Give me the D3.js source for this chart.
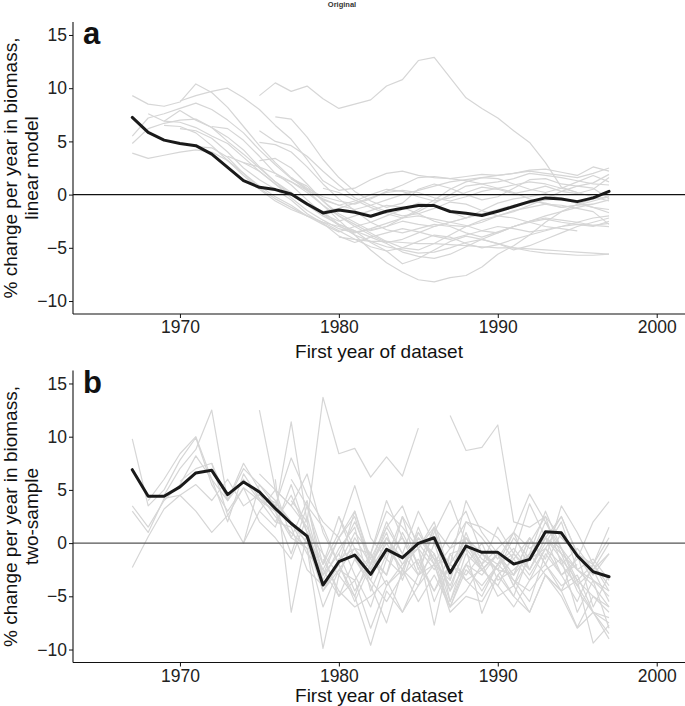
<!DOCTYPE html>
<html>
<head>
<meta charset="utf-8">
<script src="https://cdn.jsdelivr.net/npm/d3@7"></script>
<style>
  html, body { margin: 0; padding: 0; background: #fff; }
  svg { display: block; font-family: "Liberation Sans", Arial, sans-serif; }
</style>
</head>
<body>
<svg id="chart" width="685" height="706"></svg>
<script>
// ---------------- DATA ----------------
const xTicks = [1970, 1980, 1990, 2000];
const yTicks = [-10, -5, 0, 5, 10, 15];
const panelLetters = ["a", "b"];
const yTitles = [["% change per year in biomass,", "linear model"],
                 ["% change per year in biomass,", "two-sample"]];
const xTitle = "First year of dataset";

// mean lines (1967..1997)
const meanStart = 1967;
const meanA = [7.25, 5.84, 5.12, 4.81, 4.6, 3.8, 2.56, 1.31, 0.69, 0.47, 0.06, -0.88, -1.72, -1.44, -1.66, -2.03,
               -1.56, -1.28, -1.03, -1.03, -1.59, -1.75, -1.97, -1.56, -1.12, -0.66, -0.31, -0.41, -0.66, -0.31, 0.31];
const meanB = [6.9, 4.4, 4.4, 5.28, 6.59, 6.84, 4.56, 5.75, 4.81, 3.25, 1.84, 0.66, -3.94, -1.75, -1.12, -2.94,
               -0.59, -1.37, -0.03, 0.5, -2.78, -0.28, -0.87, -0.87, -1.97, -1.53, 1.06, 0.97, -1.19, -2.69, -3.16];

// panel a grey series: [first year, values...]
const greyA_starts = [1975,1967,1970,1967,1967,1967,1968,1969,1969,1970,1971,1972,1975,1976,1975,1975,1977,1978,1977,1980,1979,1976,1973,1974];
const greyA_values = [
  [9.3,10.5,9.7,10.2,9.0,8.1,8.5,8.9,10.2,10.8,12.6,12.9,11.0,9.1,8.1,7.2,6.0,4.9,3.0,0.7,0.2],
  [9.3,8.5,8.3,8.7,10.4,9.6,8.2,6.4,4.6,3.0,1.6,0.6,-0.2,-0.6,-0.9,-0.4,0.3,0.9,1.6,1.7,1.5,1.3,1.0,1.2,1.5,2.0,1.8,1.6,1.3,1.0,0.9],
  [8.8,9.3,9.7,10.0,9.1,8.0,6.5,5.2,3.3,1.3,0.4,0.6,1.4,2.0,2.2,1.8,1.6,1.5,1.7,1.9,1.8,2.0,2.3,2.4,2.1,1.8,2.6,2.2],
  [5.5,7.2,7.6,8.1,8.6,8.0,7.0,5.8,4.2,2.8,1.5,0.5,-0.5,-1.0,-0.6,0.0,0.5,0.3,-0.2,-0.6,-0.3,0.2,0.7,0.5,0.1,0.4,0.8,0.3,0.1,0.5,1.6],
  [4.8,6.2,6.7,7.0,7.1,6.3,5.0,3.8,2.5,1.2,0.0,-1.0,-1.6,-1.3,-0.8,-0.3,0.2,0.4,0.2,-0.3,-0.6,-0.2,0.3,0.6,0.9,1.2,1.0,0.6,0.2,-0.2,-0.6],
  [3.9,3.4,3.7,4.0,4.2,4.0,3.2,2.0,0.8,-0.2,-1.0,-2.0,-2.6,-3.0,-3.5,-3.3,-3.0,-2.5,-2.8,-3.0,-2.6,-2.2,-1.8,-1.5,-1.0,-0.8,-0.5,-0.4,-0.8,-1.2,-1.7],
  [7.6,6.9,7.9,7.0,6.3,5.4,4.2,2.6,1.2,0.2,-0.8,-1.8,-2.5,-2.0,-1.5,-1.0,-1.2,-1.8,-2.5,-2.9,-3.0,-2.6,-2.0,-1.5,-1.2,-0.9,-1.0,-1.3,-1.6,-2.8],
  [6.9,6.8,6.3,5.5,4.8,3.5,2.2,1.0,-0.3,-1.5,-2.4,-3.2,-3.6,-3.2,-2.7,-2.2,-2.0,-2.3,-2.6,-2.9,-3.4,-3.6,-3.0,-2.6,-2.3,-2.6,-2.8,-3.0,-2.5],
  [6.5,6.4,5.8,4.6,3.2,1.8,0.5,-0.6,-1.4,-2.0,-2.8,-3.5,-3.0,-2.6,-2.0,-1.4,-0.8,-1.0,-1.6,-2.2,-1.5,-0.8,-0.4,-0.2,0.1,-0.4,-0.8,-1.2,-1.4],
  [6.2,6.0,5.3,4.0,2.5,1.4,0.5,-0.5,-1.8,-2.7,-3.9,-4.5,-4.0,-3.6,-3.2,-3.5,-3.9,-4.2,-3.8,-3.4,-3.0,-3.2,-3.5,-3.3,-3.0,-2.8,-2.9,-2.7],
  [4.5,4.4,3.5,2.0,0.6,-0.4,-1.2,-2.0,-2.6,-3.4,-4.2,-4.9,-5.3,-5.0,-4.4,-3.8,-4.0,-4.6,-5.0,-4.7,-4.2,-3.8,-3.4,-3.0,-2.6,-2.2,-2.0],
  [6.4,6.2,5.1,3.6,2.0,0.9,-0.5,-1.8,-2.9,-3.8,-4.4,-4.9,-5.2,-5.5,-5.4,-5.0,-4.5,-4.2,-4.6,-5.0,-5.3,-5.5,-5.6,-5.7,-5.7,-5.6],
  [6.0,5.0,4.6,3.6,2.2,0.9,-0.3,-1.0,-1.6,-2.0,-1.8,-1.3,-0.7,-0.9,-1.5,-2.0,-1.6,-1.0,-0.4,0.3,0.8,0.6,-0.4],
  [7.3,7.1,5.4,3.3,1.6,0.3,-0.6,-1.2,-0.8,0.5,1.0,0.6,0.0,-0.5,-0.2,0.6,1.4,1.5,1.0,0.8,1.1,1.9],
  [4.9,4.7,4.0,2.6,1.0,-0.4,-1.5,-2.6,-3.3,-3.6,-3.2,-2.8,-3.0,-3.6,-4.0,-3.5,-3.0,-2.5,-2.2,-2.4,-2.6,-2.9,-3.0],
  [3.2,3.4,2.5,1.0,-0.6,-2.0,-3.0,-3.8,-4.5,-4.2,-3.6,-3.0,-2.6,-2.2,-1.8,-1.4,-1.0,-0.6,-0.8,-1.2,-1.0,-0.9],
  [1.6,0.4,-1.0,-2.4,-3.8,-5.2,-6.4,-7.3,-8.0,-8.2,-7.8,-7.6,-6.8,-5.6,-4.8,-3.8,-2.6,-1.6,-0.9,-0.4,-0.2],
  [-0.8,-1.6,-2.8,-3.4,-4.5,-5.3,-6.5,-6.0,-5.2,-4.4,-3.9,-4.2,-4.6,-5.2,-4.8,-4.2,-3.6,-3.0,-2.6,-2.2],
  [1.5,0.8,-0.6,-1.8,-2.6,-3.4,-3.0,-2.2,-1.4,-0.5,0.5,1.2,1.6,1.5,1.0,0.5,0.2,0.6,1.2,1.8,1.2],
  [-4.0,-4.2,-4.4,-4.4,-4.5,-4.6,-4.6,-4.7,-4.8,-4.9,-5.0,-5.0,-5.1,-5.2,-5.3,-5.4,-5.5,-5.6],
  [0.6,0.2,-0.5,-1.2,-1.8,-2.2,-1.6,-0.8,0.0,0.8,1.0,0.6,0.2,-0.4,-0.9,-1.2,-1.0,-0.6,-0.2],
  [1.8,1.2,0.2,-1.0,-2.0,-2.8,-3.6,-4.4,-5.0,-5.2,-4.6,-3.8,-3.0,-2.4,-2.0,-2.2,-2.6,-3.0,-3.2,-3.4],
  [3.6,3.0,2.2,1.0,0.0,-1.0,-2.0,-2.8,-3.4,-4.0,-4.6,-5.4,-5.8,-6.0,-5.6,-4.9,-4.2,-3.6,-3.0,-2.5,-2.0,-1.6,-1.2,-0.9,-0.5],
  [3.0,2.6,2.0,1.2,0.4,-0.4,-1.0,-1.4,-1.0,-0.5,0.0,0.4,0.8,1.2,1.4,1.6,1.8,2.0,2.2,2.0,1.8,1.6,2.0,2.5]
];

// panel b grey series
const greyB_starts = [1967,1967,1967,1967,1968,1969,1970,1972,1975,1975,1976,1977,1987,1976,1977,1978,1976,1978,1979,1980,1975,1981,1974,1975];
const greyB_values = [
  [9.8,3.5,5.0,7.8,9.9,5.5,3.0,5.2,2.0,0.5,-1.5,2.5,-3.0,-1.0,-4.5,-2.0,1.0,-3.5,0.5,-1.5,-4.0,-0.5,-2.5,-1.0,-3.0,0.5,-2.0,-4.5,-1.0,-6.0,-3.0],
  [3.5,1.5,4.0,5.5,8.2,6.0,2.0,6.5,4.2,3.0,0.5,-0.5,-6.0,-2.5,-3.5,-1.0,-4.0,-2.0,0.5,-1.0,-5.5,-2.0,0.0,-3.5,-2.5,-1.0,3.0,-0.5,-4.0,-2.5,-5.5],
  [3.0,1.0,4.2,4.5,3.0,1.0,2.6,0.0,5.5,3.5,2.0,-1.0,-2.5,0.5,-3.0,-6.0,-1.5,-3.0,1.5,-2.0,-3.5,1.0,-2.5,-4.0,-1.0,-2.5,0.5,-1.5,-6.5,-3.5,-8.0],
  [-2.3,0.6,3.2,4.5,5.5,4.0,6.0,3.5,4.6,2.5,1.0,-0.5,-9.9,-3.0,-5.0,-9.6,-4.5,-6.5,-3.0,-2.0,-6.0,-4.5,-2.0,-5.0,-4.0,-6.5,-3.0,-4.5,-3.5,-9.4,-7.7],
  [4.0,6.0,8.4,10.0,6.0,4.0,7.0,5.5,4.0,2.0,0.0,-3.0,-1.0,2.0,-1.5,1.5,3.5,-0.5,-2.5,-0.5,0.5,-2.0,-0.5,1.0,4.6,2.0,-1.0,-2.5,-3.5,-4.5],
  [4.5,7.0,8.8,12.5,4.0,7.5,5.0,3.0,-1.0,3.5,-2.0,1.0,5.4,0.5,-1.5,2.5,-2.5,1.0,4.0,0.0,-2.0,1.5,-1.0,3.7,0.5,-3.0,-1.5,2.0,3.9],
  [5.8,7.0,7.5,2.6,5.2,4.0,2.0,1.5,-2.5,-4.0,-2.0,-5.0,-1.0,-3.0,1.0,-2.0,-4.5,-1.0,-0.5,-6.6,-3.0,-1.5,0.5,-2.0,-4.0,-3.0,-6.5,-8.5],
  [7.5,4.0,6.0,4.0,3.0,11.4,2.0,-4.5,-2.0,-5.5,-2.0,0.5,-1.5,-0.5,-7.7,-1.0,-3.5,-2.5,-1.0,-4.0,0.0,2.5,-2.0,-0.5,-2.5,0.0],
  [12.5,5.0,3.5,6.5,1.0,-2.0,3.0,-1.5,-3.0,2.5,0.0,-2.0,1.0,3.0,-1.0,-2.5,0.5,-1.5,2.0,-0.5,-3.5,-2.0,0.5],
  [6.5,5.0,0.5,4.0,-3.5,-0.5,1.5,-4.5,-1.0,0.5,-3.0,-1.0,-4.5,0.0,-2.5,-1.0,-4.0,-1.5,-0.5,-3.0,-5.5,-2.0,-4.5],
  [3.5,8.0,4.5,2.0,0.5,3.0,-2.0,0.5,-1.5,-0.5,2.0,-3.0,0.5,-1.0,-2.0,1.0,-2.5,0.0,2.5,-1.0,-3.0,-1.0],
  [4.0,2.0,13.7,8.4,8.9,6.2,8.1,6.3,10.8],
  [12.0,8.7,9.0,11.1,2.0,1.5,2.5,0.5,-1.0,-3.5,-5.0],
  [2.0,4.5,1.0,-4.5,-1.5,-0.5,-3.5,-5.5,-3.0,-1.5,-4.5,-2.0,-3.5,-5.0,-2.0,-1.0,-3.0,-0.5,-2.0,-4.0,-6.5,-7.0],
  [6.0,3.5,-1.0,-3.0,0.5,-2.0,2.0,-1.0,-3.0,1.5,-5.5,-1.0,-2.5,-4.0,-6.0,-3.5,-2.0,1.0,-1.0,-2.5,-1.0],
  [3.5,1.5,-2.0,1.0,-1.0,3.0,1.5,-0.5,1.5,-3.5,2.0,0.5,-1.5,1.0,-0.5,0.5,2.5,-1.0,-2.0,1.5],
  [6.0,-6.5,1.0,-2.5,-5.0,-1.5,-4.0,-7.5,-2.5,-4.0,0.0,-4.5,-2.0,-3.0,-1.0,-3.5,-5.5,-1.0,-3.0,-2.0],
  [1.0,-1.0,-5.0,-3.5,-8.0,-4.0,-2.5,-5.5,-3.0,-6.0,-2.0,-4.5,-2.0,-3.5,-4.5,-2.5,-1.5,-3.5,-5.0,-6.0],
  [-1.5,-4.5,-6.0,-5.0,-3.5,-6.5,-4.0,-2.0,-6.5,-5.0,-5.5,-3.0,-5.0,-6.5,-3.0,-4.5,-7.9,-5.0,-6.5],
  [2.5,-0.5,-2.5,1.5,-1.0,3.0,0.0,-2.0,4.0,1.0,-1.0,-3.0,0.5,-1.5,3.5,1.0,-2.0,-4.0],
  [4.5,3.8,2.0,0.0,-4.5,-2.5,-0.5,-1.0,4.0,0.5,-2.0,1.5,-0.5,2.0,1.5,0.5,-1.5,-3.5,-0.5,2.0,-2.5,-4.0,-6.0],
  [-1.5,-3.0,-0.5,-2.5,1.0,-1.5,-6.0,-2.5,-4.0,-2.0,-0.5,-2.5,0.5,-1.0,-4.5,-6.5,-9.0],
  [0.0,3.0,5.0,3.5,1.5,-2.0,2.5,-1.5,-3.5,0.5,-2.0,-0.5,-5.5,-2.0,-3.0,-1.0,-2.5,-3.0,-1.0,-3.0,-5.0,-8.0,-6.5,-7.5],
  [3.0,1.5,5.5,1.0,-3.0,0.5,2.5,-2.5,0.0,-2.5,1.0,-1.5,-2.0,0.5,-1.5,-2.5,-5.0,-1.0,0.5,-0.5,-2.5,-1.5,-3.5]
];

// ---------------- DRAW ----------------
const svg = d3.select("#chart");
const FONT = '"Liberation Sans", Arial, sans-serif';
const left = 73, right = 685, plotTop = 22, plotBottom = 314;
const panelOffsets = [0, 348.5];
const xTitleY = [358, 353];

const x = d3.scaleLinear().domain([1963.27, 2001.78]).range([left, right]);

svg.append("text")
  .attr("x", 342).attr("y", 7)
  .attr("text-anchor", "middle")
  .attr("font-size", 7.5).attr("font-weight", "bold")
  .attr("fill", "#333")
  .text("Original");

function toPts(start, vals) {
  return vals.map((v, i) => ({ year: start + i, v }));
}

function drawPanel(idx, greyStarts, greyVals, meanVals, zeroColor, zeroWidth) {
  const off = panelOffsets[idx];
  const g = svg.append("g").attr("transform", `translate(0,${off})`);
  const y = d3.scaleLinear().domain([-11.22, 16.22]).range([plotBottom, plotTop]);
  const line = d3.line().x(d => x(d.year)).y(d => y(d.v));

  // grey lines
  g.append("g").selectAll("path")
    .data(greyVals.map((vals, i) => toPts(greyStarts[i], vals)))
    .join("path")
    .attr("d", line)
    .attr("fill", "none")
    .attr("stroke", "#d6d6d6")
    .attr("stroke-width", 1.2)
    .attr("stroke-linejoin", "round");

  // zero line
  g.append("line")
    .attr("x1", left).attr("x2", right)
    .attr("y1", y(0)).attr("y2", y(0))
    .attr("stroke", zeroColor).attr("stroke-width", zeroWidth);

  // mean line
  g.append("path")
    .datum(toPts(meanStart, meanVals))
    .attr("d", line)
    .attr("fill", "none")
    .attr("stroke", "#1a1a1a")
    .attr("stroke-width", 3)
    .attr("stroke-linejoin", "round")
    .attr("stroke-linecap", "round");

  // axes
  const yAxis = d3.axisLeft(y).tickValues(yTicks).tickSize(4).tickPadding(2);
  const ya = g.append("g").attr("transform", `translate(${left},0)`).call(yAxis);
  const xAxis = d3.axisBottom(x).tickValues(xTicks).tickFormat(d3.format("d")).tickSize(4).tickPadding(3);
  const xa = g.append("g").attr("transform", `translate(0,${plotBottom})`).call(xAxis);
  [ya, xa].forEach(a => {
    a.select(".domain").attr("stroke", "#111").attr("stroke-width", 1.1);
    a.selectAll(".tick line").attr("stroke", "#111").attr("stroke-width", 1);
    a.selectAll(".tick text").attr("font-family", FONT).attr("font-size", 17.5).attr("fill", "#222");
  });
  ya.select(".domain").attr("d", `M0,${plotTop}V${plotBottom}`);
  xa.select(".domain").attr("d", `M${left},0H${right}`);

  // x title
  g.append("text")
    .attr("x", (left + right) / 2).attr("y", xTitleY[idx])
    .attr("text-anchor", "middle")
    .attr("font-family", FONT).attr("font-size", 19).attr("fill", "#111")
    .text(xTitle);

  // y title (two lines)
  const cy = (plotTop + plotBottom) / 2;
  yTitles[idx].forEach((t, i) => {
    g.append("text")
      .attr("transform", `translate(${17 + i * 21},${cy}) rotate(-90)`)
      .attr("text-anchor", "middle")
      .attr("font-family", FONT).attr("font-size", 19).attr("fill", "#111")
      .text(t);
  });

  // panel letter
  g.append("text")
    .attr("x", 83).attr("y", 44)
    .attr("font-family", FONT).attr("font-size", 31).attr("font-weight", "bold")
    .attr("fill", "#111")
    .text(panelLetters[idx]);
}

drawPanel(0, greyA_starts, greyA_values, meanA, "#111", 1.1);
drawPanel(1, greyB_starts, greyB_values, meanB, "#555", 1.4);
</script>
</body>
</html>
